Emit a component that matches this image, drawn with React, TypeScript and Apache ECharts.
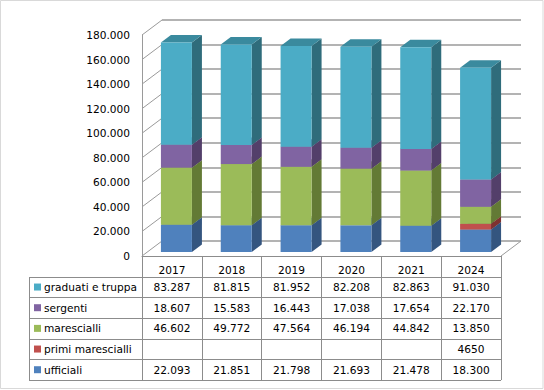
import React, { useEffect, useRef } from "react";
import * as echarts from "echarts";

// ---- data ----
const years = ["2017", "2018", "2019", "2020", "2021", "2024"];
const ufficiali = [22093, 21851, 21798, 21693, 21478, 18300];
const primiMarescialli: (number | null)[] = [null, null, null, null, null, 4650];
const marescialli = [46602, 49772, 47564, 46194, 44842, 13850];
const sergenti = [18607, 15583, 16443, 17038, 17654, 22170];
const graduatiETruppa = [83287, 81815, 81952, 82208, 82863, 91030];
const yTicks = [0, 20000, 40000, 60000, 80000, 100000, 120000, 140000, 160000, 180000];

// stacking order bottom -> top
const seriesDefs = [
  { name: "ufficiali", data: ufficiali as (number | null)[], front: "#4F81BD", side: "#34557F", top: "#41699A", sep: true },
  { name: "primi marescialli", data: primiMarescialli, front: "#C0504D", side: "#7E3230", top: "#9C403E", sep: false },
  { name: "marescialli", data: marescialli as (number | null)[], front: "#9BBB59", side: "#637A35", top: "#7F9A48", sep: true },
  { name: "sergenti", data: sergenti as (number | null)[], front: "#8064A2", side: "#533F6A", top: "#685185", sep: true },
  { name: "graduati e truppa", data: graduatiETruppa as (number | null)[], front: "#4BACC6", side: "#2F6C7B", top: "#3A8A9E", sep: true },
];

// ---- layout ----
const FONT = "DejaVu Sans";
const FS = 10.6;
const FRONT = { left: 142, top: 35, width: 359, height: 221 };
const DEPTH = { dx: 20, dy: -15 };
const BAR = { offX: 4.5, offY: -4, width: 31, dx: 10, dy: -7.5 };
const TABLE = { left: 29, headerBottom: 276.7, rowH: 20.67 };
const LINE = "#8c8c8c";
const GRID_LINE = "#9a9a9a";

function fmt(v: number | null, sep: boolean): string {
  if (v === null || v === undefined) return "";
  const s = String(v);
  return sep ? s.replace(/\B(?=(\d{3})+(?!\d))/g, ".") : s;
}

export default function App() {
  const ref = useRef<HTMLDivElement>(null);
  useEffect(() => {
    if (!ref.current) return;
    const chart = echarts.init(ref.current, undefined, { renderer: "svg" });

    // stacked bases
    const bases = years.map(() => 0);
    const barSeries = seriesDefs.map((d) => {
      const data: number[][] = [];
      d.data.forEach((v, i) => {
        if (v !== null && v > 0) {
          data.push([i, bases[i], v]);
          bases[i] += v;
        }
      });
      return {
        type: "custom",
        name: d.name,
        xAxisIndex: 0,
        yAxisIndex: 0,
        encode: { x: 0, y: 1 },
        data,
        z: 5,
        renderItem: (params: any, api: any) => {
          const idx = api.value(0);
          const base = api.value(1);
          const val = api.value(2);
          const p0 = api.coord([idx, base]);
          const p1 = api.coord([idx, base + val]);
          const x0 = p0[0] + BAR.offX - BAR.width / 2;
          const x1 = x0 + BAR.width;
          const yb = p0[1] + BAR.offY;
          const yt = p1[1] + BAR.offY;
          return {
            type: "group",
            children: [
              {
                type: "polygon",
                shape: { points: [[x1, yb], [x1 + BAR.dx, yb + BAR.dy], [x1 + BAR.dx, yt + BAR.dy], [x1, yt]] },
                style: { fill: d.side },
              },
              {
                type: "polygon",
                shape: { points: [[x0, yt], [x0 + BAR.dx, yt + BAR.dy], [x1 + BAR.dx, yt + BAR.dy], [x1, yt]] },
                style: { fill: d.top },
              },
              {
                type: "rect",
                shape: { x: x0, y: yt, width: BAR.width, height: yb - yt },
                style: { fill: d.front },
              },
            ],
          };
        },
      };
    });

    // left wall diagonals + floor right edge
    const wallSeries = {
      type: "custom",
      xAxisIndex: 0,
      yAxisIndex: 0,
      encode: { x: 0, y: 1 },
      data: yTicks.map((v) => [0, v]),
      z: 1,
      silent: true,
      renderItem: (params: any, api: any) => {
        const v = api.value(1);
        const p = api.coord([0, v]);
        const cs = params.coordSys;
        const children: any[] = [
          {
            type: "line",
            shape: { x1: cs.x, y1: p[1], x2: cs.x + DEPTH.dx, y2: p[1] + DEPTH.dy },
            style: { stroke: GRID_LINE, lineWidth: 1 },
          },
        ];
        if (v === 0) {
          children.push({
            type: "line",
            shape: { x1: cs.x + cs.width, y1: p[1], x2: cs.x + cs.width + DEPTH.dx, y2: p[1] + DEPTH.dy },
            style: { stroke: GRID_LINE, lineWidth: 1 },
          });
        }
        return { type: "group", children };
      },
    };

    // table graphics
    const colW = FRONT.width / years.length;
    const tableRows = [...seriesDefs].reverse();
    const tableBottom = TABLE.headerBottom + TABLE.rowH * tableRows.length;
    const right = FRONT.left + FRONT.width;
    const graphics: any[] = [];
    graphics.push({
      type: "rect",
      shape: { x: 0.5, y: 0.5, width: 542.5, height: 388 },
      style: { fill: "none", stroke: "#d9d9d9", lineWidth: 1 },
      silent: true,
    });
    for (let r = 0; r <= tableRows.length; r++) {
      const y = Math.round(TABLE.headerBottom + r * TABLE.rowH) + 0.5;
      graphics.push({
        type: "line",
        shape: { x1: TABLE.left, y1: y, x2: right, y2: y },
        style: { stroke: LINE, lineWidth: 1 },
      });
    }
    graphics.push({
      type: "line",
      shape: { x1: TABLE.left + 0.5, y1: Math.round(TABLE.headerBottom) + 0.5, x2: TABLE.left + 0.5, y2: Math.round(tableBottom) + 0.5 },
      style: { stroke: LINE, lineWidth: 1 },
    });
    tableRows.forEach((d, r) => {
      const cy = TABLE.headerBottom + r * TABLE.rowH + TABLE.rowH / 2;
      graphics.push({
        type: "rect",
        shape: { x: 34, y: cy - 3.5, width: 7, height: 7 },
        style: { fill: d.front },
      });
      graphics.push({
        type: "text",
        x: 44,
        y: cy,
        style: { text: d.name, fill: "#000", font: `normal ${FS}px "${FONT}"`, textAlign: "left", textVerticalAlign: "middle" },
      });
      d.data.forEach((v, i) => {
        graphics.push({
          type: "text",
          x: FRONT.left + (i + 0.5) * colW,
          y: cy,
          style: { text: fmt(v, d.sep), fill: "#000", font: `normal ${FS}px "${FONT}"`, textAlign: "center", textVerticalAlign: "middle" },
        });
      });
    });

    chart.setOption({
      animation: false,
      backgroundColor: "#fff",
      textStyle: { fontFamily: FONT, fontWeight: "normal" },
      grid: [
        { left: FRONT.left, top: FRONT.top, width: FRONT.width, height: FRONT.height },
        { left: FRONT.left + DEPTH.dx, top: FRONT.top + DEPTH.dy, width: FRONT.width, height: FRONT.height },
      ],
      xAxis: [
        {
          type: "category",
          gridIndex: 0,
          data: years,
          boundaryGap: true,
          axisLine: { show: true, lineStyle: { color: LINE, width: 1 } },
          axisTick: { show: true, length: tableBottom - (FRONT.top + FRONT.height), lineStyle: { color: LINE, width: 1 } },
          axisLabel: { color: "#000", fontSize: FS, fontFamily: FONT, fontWeight: "normal", margin: 8 },
          splitLine: { show: false },
        },
        {
          type: "category",
          gridIndex: 1,
          data: years,
          show: false,
        },
      ],
      yAxis: [
        {
          type: "value",
          gridIndex: 0,
          min: 0,
          max: 180000,
          interval: 20000,
          axisLine: { show: true, lineStyle: { color: GRID_LINE, width: 1 } },
          axisTick: { show: false },
          splitLine: { show: false },
          axisLabel: {
            color: "#000",
            fontSize: FS,
            fontFamily: FONT,
            fontWeight: "normal",
            margin: 12,
            formatter: (v: number) => fmt(v, true),
          },
        },
        {
          type: "value",
          gridIndex: 1,
          min: 0,
          max: 180000,
          interval: 20000,
          axisLine: { show: false },
          axisTick: { show: false },
          axisLabel: { show: false },
          splitLine: { show: true, lineStyle: { color: GRID_LINE, width: 1.5 } },
        },
      ],
      series: [wallSeries, ...barSeries],
      graphic: graphics,
    });
    return () => chart.dispose();
  }, []);
  return <div ref={ref} style={{ position: "fixed", left: 0, top: 0, width: 544, height: 390 }} />;
}
